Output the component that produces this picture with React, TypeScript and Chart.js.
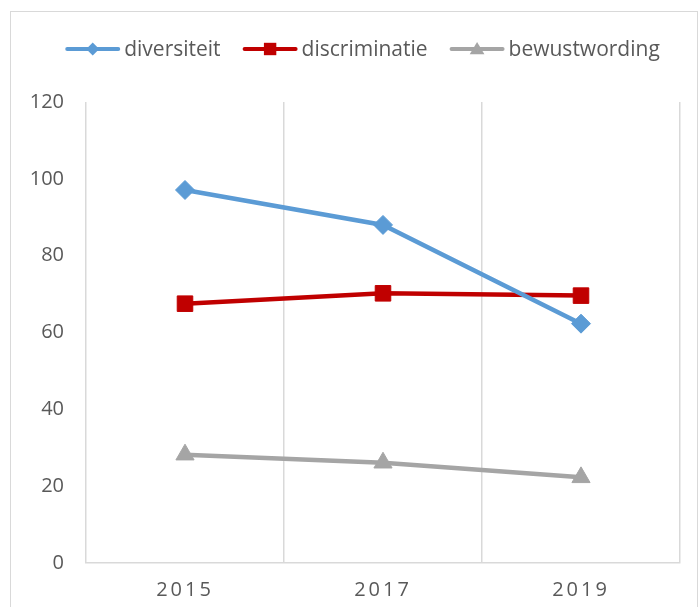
import React, { useEffect, useRef } from "react";
import { Chart, registerables } from "chart.js";

Chart.register(...registerables);

const categories = ["2015", "2017", "2019"];
const diversiteit = [97.1, 88.0, 62.3];
const discriminatie = [67.5, 70.2, 69.6];
const bewustwording = [28.2, 26.1, 22.3];
const seriesNames = ["diversiteit", "discriminatie", "bewustwording"];
const seriesColors = ["#5B9BD5", "#C00000", "#A5A5A5"];
const seriesMarkers = ["rectRot", "rect", "triangle"];
const yMin = 0;
const yMax = 120;
const yStep = 20;

const FONT = "'Open Sans', 'DejaVu Sans', sans-serif";
const TEXT = "#595959";
const GRID = "#d9d9d9";

function drawMarker(ctx: CanvasRenderingContext2D, kind: string, x: number, y: number, s: number) {
  ctx.beginPath();
  if (kind === "rectRot") {
    ctx.moveTo(x, y - s);
    ctx.lineTo(x + s, y);
    ctx.lineTo(x, y + s);
    ctx.lineTo(x - s, y);
  } else if (kind === "rect") {
    ctx.rect(x - s, y - s, 2 * s, 2 * s);
  } else {
    ctx.moveTo(x, y - s);
    ctx.lineTo(x + s * 1.05, y + s * 0.75);
    ctx.lineTo(x - s * 1.05, y + s * 0.75);
  }
  ctx.closePath();
  ctx.fill();
}

const legendPlugin = {
  id: "customLegend",
  afterDraw(chart: any) {
    const ctx: CanvasRenderingContext2D = chart.ctx;
    ctx.save();
    ctx.font = `21px ${FONT}`;
    ctx.textBaseline = "middle";
    ctx.textAlign = "left";
    const lineW = 55;
    const gapText = 4;
    const gapItem = 22;
    const widths = seriesNames.map((n) => ctx.measureText(n).width);
    const total = widths.reduce((a, b) => a + b, 0) + 3 * (lineW + gapText) + 2 * gapItem;
    let x = 351.5 - total / 2;
    const y = 37;
    const sizes = [6.5, 6.2, 7];
    seriesNames.forEach((name, i) => {
      ctx.strokeStyle = seriesColors[i];
      ctx.fillStyle = seriesColors[i];
      ctx.lineWidth = 4;
      ctx.lineCap = "round";
      ctx.beginPath();
      ctx.moveTo(x + 2, y);
      ctx.lineTo(x + lineW - 2, y);
      ctx.stroke();
      drawMarker(ctx, seriesMarkers[i], x + lineW / 2, y, sizes[i]);
      ctx.fillStyle = TEXT;
      ctx.fillText(name, x + lineW + gapText, y + 1);
      x += lineW + gapText + widths[i] + gapItem;
    });
    ctx.restore();
  },
  beforeDraw(chart: any) {
    const sx: any = chart.scales.x;
    if (sx && !sx.__ls) {
      const orig = sx.drawLabels.bind(sx);
      sx.drawLabels = (area: any) => {
        const c: any = chart.ctx;
        c.save();
        c.letterSpacing = "3px";
        orig(area);
        c.restore();
      };
      sx.__ls = true;
    }
  },
};

export default function App() {
  const ref = useRef<HTMLCanvasElement | null>(null);
  useEffect(() => {
    document.body.style.overflow = "hidden";
    const canvas = ref.current!;
    const data = [diversiteit, discriminatie, bewustwording];
    const radii = [9.5, 11, 10.5];
    const chart = new Chart(canvas, {
      type: "line",
      data: {
        labels: categories,
        datasets: seriesNames.map((name, i) => ({
          label: name,
          data: data[i],
          borderColor: seriesColors[i],
          backgroundColor: seriesColors[i],
          borderWidth: 4.5,
          pointStyle: seriesMarkers[i] as any,
          pointRadius: radii[i],
          pointHoverRadius: radii[i],
          pointBorderWidth: 1,
          pointBackgroundColor: seriesColors[i],
          pointBorderColor: seriesColors[i],
          tension: 0,
          fill: false,
        })),
      },
      options: {
        animation: false,
        responsive: false,
        devicePixelRatio: 1,
        layout: { padding: { top: 90, right: 17, left: 0, bottom: 0 } },
        plugins: {
          legend: { display: false },
          tooltip: { enabled: false },
          title: { display: false },
        },
        scales: {
          x: {
            type: "category",
            offset: true,
            grid: { display: true, offset: true, color: GRID, lineWidth: 1.5, drawTicks: false },
            border: { display: true, color: GRID, width: 1.5 },
            ticks: { color: TEXT, font: { family: FONT, size: 20 }, padding: 15, maxRotation: 0 },
            afterFit: (s: any) => {
              s.height = 44;
            },
          },
          y: {
            min: yMin,
            max: yMax,
            ticks: { stepSize: yStep, color: TEXT, font: { family: FONT, size: 20 }, padding: 22 },
            grid: { display: false, drawTicks: false },
            border: { display: false },
            afterFit: (s: any) => {
              s.width = 75;
            },
          },
        },
      },
      plugins: [legendPlugin],
    });
    return () => chart.destroy();
  }, []);
  return (
    <div
      style={{
        position: "absolute",
        left: 10,
        top: 11,
        width: 686,
        height: 596,
        borderTop: "1px solid #d9d9d9",
        borderLeft: "1px solid #d9d9d9",
        borderRight: "1px solid #d9d9d9",
        background: "#fff",
      }}
    >
      <canvas ref={ref} width={686} height={595} style={{ display: "block" }} />
    </div>
  );
}
